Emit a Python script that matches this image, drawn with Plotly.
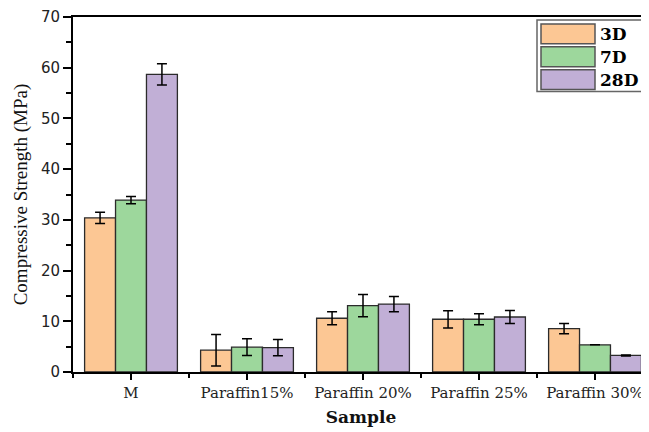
import plotly.graph_objects as go

categories = ["M", "Paraffin15%", "Paraffin 20%", "Paraffin 25%", "Paraffin 30%"]
series_names = ["3D", "7D", "28D"]
vals_3d = [30.4, 4.3, 10.6, 10.4, 8.55]
vals_7d = [33.9, 4.9, 13.1, 10.4, 5.35]
vals_28d = [58.7, 4.8, 13.4, 10.85, 3.26]
err_3d = [1.1, 3.1, 1.3, 1.7, 1.0]
err_7d = [0.7, 1.65, 2.2, 1.1, 0.0]
err_28d = [2.1, 1.6, 1.5, 1.3, 0.1]
colors = ["#FCC794", "#9DD79C", "#C1AFD6"]

# page body has an 8px margin; compensate so the plot lands where the reference has it
OFF = 8
W, H = 649 - OFF, 432 - OFF
ML, MR, MT = 73 - OFF, 0, 15 - OFF
PH = 372 - 15
MB = H - MT - PH
PW = W - ML - MR

def px2x(px):
    return (px - OFF - ML) / PW

def px2y(py):
    return (372 - py) / PH

xs = list(range(len(categories)))
values = [vals_3d, vals_7d, vals_28d]
errors = [err_3d, err_7d, err_28d]

fig = go.Figure()
for name, v, e, c in zip(series_names, values, errors, colors):
    fig.add_trace(go.Bar(
        x=xs, y=v, name=name,
        marker=dict(color=c, line=dict(color="#2b2b2b", width=1.3)),
        error_y=dict(type="data", array=e, visible=True, color="black",
                     thickness=1.5, width=5),
        showlegend=False,
    ))

# custom legend with large swatches
shapes = [dict(type="rect", xref="paper", yref="paper",
               x0=px2x(537), x1=px2x(646), y0=px2y(90), y1=px2y(18),
               line=dict(color="#666666", width=1.5), fillcolor="white", layer="above")]
annotations = []
for i, (name, c) in enumerate(zip(series_names, colors)):
    top = 22 + i * 23
    shapes.append(dict(type="rect", xref="paper", yref="paper",
                       x0=px2x(541), x1=px2x(595), y0=px2y(top + 20), y1=px2y(top),
                       line=dict(color="#555555", width=1.5), fillcolor=c, layer="above"))
    annotations.append(dict(xref="paper", yref="paper", x=px2x(599), y=px2y(top + 10),
                            text="<b>" + name + "</b>", showarrow=False,
                            xanchor="left", yanchor="middle", borderpad=0,
                            font=dict(family="DejaVu Serif", size=17, color="black")))

fig.update_layout(
    width=W, height=H,
    margin=dict(l=ML, r=MR, t=MT, b=MB),
    paper_bgcolor="white", plot_bgcolor="white",
    barmode="group", bargap=0.2, bargroupgap=0.0,
    shapes=shapes, annotations=annotations,
    xaxis=dict(
        range=[-0.5, -0.5 + PW / 116.0],
        tickmode="array", tickvals=xs, ticktext=categories,
        ticks="outside", ticklen=6, tickwidth=2, tickcolor="black",
        minor=dict(tickmode="linear", tick0=-0.5, dtick=1, ticks="outside",
                   ticklen=4, tickwidth=2, tickcolor="black"),
        showline=True, linewidth=2, linecolor="black", mirror=True,
        showgrid=False, zeroline=False, ticklabeloverflow="allow",
        tickfont=dict(family="DejaVu Serif", size=15, color="#222"),
        title=dict(text="<b>Sample</b>", font=dict(family="DejaVu Serif", size=17, color="#111"),
                   standoff=10),
    ),
    yaxis=dict(
        range=[0, 70], dtick=10, tick0=0,
        ticks="outside", ticklen=8, tickwidth=2, tickcolor="black",
        minor=dict(dtick=5, ticks="outside", ticklen=5, tickwidth=2, tickcolor="black"),
        showline=True, linewidth=2, linecolor="black",
        showgrid=False, zeroline=False, ticklabeloverflow="allow",
        tickfont=dict(family="DejaVu Sans", size=15, color="#222"),
        title=dict(text="Compressive Strength (MPa)",
                   font=dict(family="Liberation Serif", size=19, color="#111"),
                   standoff=8),
    ),
)

fig.write_html("out.html")
